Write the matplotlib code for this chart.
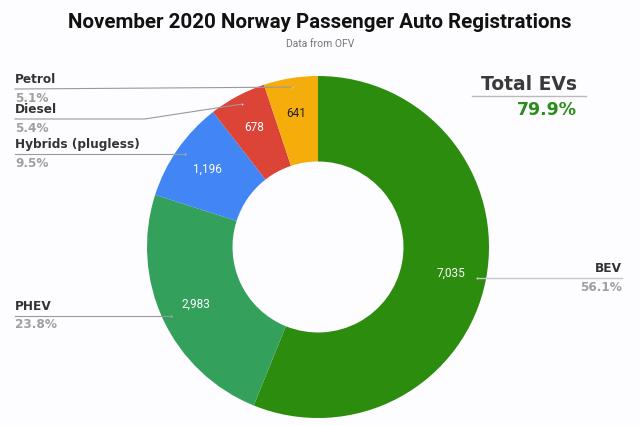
import numpy as np
import matplotlib
matplotlib.use("Agg")
import matplotlib.pyplot as plt

# ---- data ----
categories = ["BEV", "PHEV", "Hybrids (plugless)", "Diesel", "Petrol"]
values = [7035, 2983, 1196, 678, 641]
value_labels = ["7,035", "2,983", "1,196", "678", "641"]
colors = ["#2b8c0e", "#33a05b", "#4285f4", "#db4437", "#f5ad0b"]
value_text_colors = ["white", "white", "white", "white", "#222222"]
ev_categories = ["BEV", "PHEV"]

title = "November 2020 Norway Passenger Auto Registrations"
subtitle = "Data from OFV"

# ---- figure ----
W, H = 640, 425
bg = "#fdfcfe"
fig = plt.figure(figsize=(W / 100, H / 100), dpi=100, facecolor=bg)
ax = fig.add_axes([0, 0, 1, 1])
ax.set_facecolor(bg)

cx, cy = 318, H - 247
R = 171
total = sum(values)

wedges, _ = ax.pie(values, colors=colors, startangle=90, counterclock=False,
                   center=(cx, cy), radius=R,
                   wedgeprops=dict(width=R * 0.5, edgecolor="none"))
ax.set_xlim(0, W)
ax.set_ylim(0, H)
ax.set_aspect("equal", adjustable="box")
ax.axis("off")

cum = np.cumsum([0] + values[:-1])
mids = 90 - 360 * (cum + np.array(values) / 2) / total

label_r = 135
dot_r = 162
left_x = 15
right_x = 622
min_gap = 30
top_limit = H - 89   # highest allowed leader line (data coords)

left_items = []
right_items = []
for i, (cat, v, a) in enumerate(zip(categories, values, mids)):
    rad = np.deg2rad(a)
    lx = cx + label_r * np.cos(rad)
    ly = cy + label_r * np.sin(rad)
    ax.text(lx, ly, value_labels[i], ha="center", va="center",
            color=value_text_colors[i], fontsize=8.5, family="Roboto")
    dx = cx + dot_r * np.cos(rad)
    dy = cy + dot_r * np.sin(rad)
    ax.plot([dx], [dy], marker="o", ms=1.3, color="#e8e8e8", mec="none")
    pct = 100 * v / total
    item = dict(cat=cat, pct=pct, dx=dx, dy=dy, y=dy)
    if np.cos(rad) < 0:
        left_items.append(item)
    else:
        right_items.append(item)

# resolve overlaps on the left, from top to bottom
left_items.sort(key=lambda d: -d["dy"])
prev = None
for it in left_items:
    y = min(it["dy"], top_limit)
    if prev is not None:
        y = min(y, prev - min_gap)
    it["y"] = y
    prev = y

lab_font = dict(family="DejaVu Sans", fontweight="bold", fontsize=8.7)

def draw_item(it, side):
    y = it["y"]
    if side == "left":
        x0 = left_x
        if abs(y - it["dy"]) > 6:
            kx = it["dx"] - 97
            ax.plot([x0, kx, it["dx"]], [y, y, it["dy"]], color="#9a9a9a", lw=0.8)
        else:
            ax.plot([x0, it["dx"]], [y, it["dy"]], color="#9a9a9a", lw=0.8)
        ha = "left"
        tx = x0
    else:
        ax.plot([it["dx"], right_x], [y, y], color="#c8c8c8", lw=1.0)
        ha = "right"
        tx = right_x
    ax.text(tx, y + 3, it["cat"], ha=ha, va="bottom", color="#333333", **lab_font)
    ax.text(tx, y - 2.5, f"{it['pct']:.1f}%", ha=ha, va="top", color="#a0a0a0", **lab_font)

for it in left_items:
    draw_item(it, "left")
for it in right_items:
    draw_item(it, "right")

# title / subtitle
fig.text(0.5, 1 - 22 / H, title, ha="center", va="center", fontsize=14.8,
         fontweight="bold", family="Roboto", color="#111111")
fig.text(0.5, 1 - 44 / H, subtitle, ha="center", va="center", fontsize=7.5,
         family="Roboto", color="#777777")

# Total EVs annotation
ev_pct = 100 * sum(v for c, v in zip(categories, values) if c in ev_categories) / total
ax.text(577, H - 84, "Total EVs", ha="right", va="center", fontsize=13.5,
        fontweight="bold", family="DejaVu Sans", color="#3a3a3a")
ax.plot([472, 586], [H - 96, H - 96], color="#bbbbbb", lw=1.0)
ax.text(577, H - 110, f"{ev_pct:.1f}%", ha="right", va="center", fontsize=12.5,
        fontweight="bold", family="DejaVu Sans", color="#2a8c1a")

fig.savefig("out.png", dpi=100, facecolor=bg)
